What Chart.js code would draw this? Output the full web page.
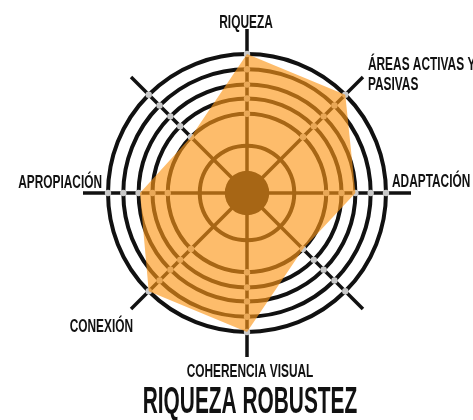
<!DOCTYPE html>
<html>
<head>
<meta charset="utf-8">
<script src="https://cdn.jsdelivr.net/npm/chart.js@4"></script>
<style>
  html, body { margin: 0; padding: 0; background: #fff; }
</style>
</head>
<body>
<canvas id="radar-chart" width="473" height="420"></canvas>
<script>
// axes, clockwise from the top (two diagonals carry no label)
const axisLabels = ["RIQUEZA", ["ÁREAS ACTIVAS Y", "PASIVAS"], "ADAPTACIÓN", "", "COHERENCIA VISUAL", "CONEXIÓN", "APROPIACIÓN", ""];
const values = [10, 10, 7.8, 5.7, 10, 10, 7.7, 5.7];
// ring positions (outer ring = 10)
const ringValues = [3.4, 5.7, 6.8, 7.8, 8.9, 10];
const dashedRings = [5.7, 6.8, 7.8, 8.9, 10];
const centerValue = 1.6;
const axisMax = 11.8;
const chartTitle = "RIQUEZA ROBUSTEZ";

const INK = "#111111";
const FONT = "Liberation Sans, Arial, sans-serif";

// label placement relative to the end of each axis line
const labelLayout = [
  { dx: -1, dy: -1, align: "center" },
  { dx: 5, dy: -7, align: "left" },
  { dx: -19, dy: -6, align: "left" },
  null,
  { dx: 3, dy: 20, align: "center" },
  { dx: 2, dy: 23, align: "right" },
  { dx: 19, dy: -5, align: "right" },
  null,
];

function condensedText(ctx, text, x, y, size, squeeze, align, weight) {
  ctx.save();
  ctx.translate(x, y);
  ctx.scale(squeeze, 1);
  ctx.font = weight + " " + size + "px " + FONT;
  ctx.textAlign = align;
  ctx.textBaseline = "alphabetic";
  ctx.fillStyle = INK;
  ctx.fillText(text, 0, 0);
  ctx.restore();
}

const ringMarks = {
  id: "ringMarks",
  beforeDatasetsDraw(chart) {
    const scale = chart.scales.r;
    const ctx = chart.ctx;
    ctx.save();
    // solid hub
    ctx.fillStyle = INK;
    ctx.beginPath();
    ctx.arc(scale.xCenter, scale.yCenter, scale.getDistanceFromCenterForValue(centerValue), 0, Math.PI * 2);
    ctx.fill();
    // light dots where the outer rings cross the spokes
    ctx.fillStyle = "#c8c8c8";
    dashedRings.forEach(v => {
      const d = scale.getDistanceFromCenterForValue(v);
      axisLabels.forEach((_, i) => {
        const p = scale.getPointPosition(i, d);
        ctx.beginPath();
        ctx.arc(p.x, p.y, 3.2, 0, Math.PI * 2);
        ctx.fill();
      });
    });
    ctx.restore();
  },
  afterDraw(chart) {
    const scale = chart.scales.r;
    const ctx = chart.ctx;
    axisLabels.forEach((label, i) => {
      const lay = labelLayout[i];
      if (!lay || !label) return;
      const end = scale.getPointPosition(i, scale.drawingArea);
      const lines = Array.isArray(label) ? label : [label];
      lines.forEach((line, k) => {
        condensedText(ctx, line, end.x + lay.dx, end.y + lay.dy + k * 20, 18, 0.66, lay.align, "bold");
      });
    });
    condensedText(ctx, chartTitle, scale.xCenter + 3, 413, 36, 0.58, "center", "bold");
  }
};

new Chart(document.getElementById("radar-chart").getContext("2d"), {
  type: "radar",
  data: {
    labels: axisLabels,
    datasets: [
      {
        label: chartTitle,
        data: values,
        fill: true,
        backgroundColor: "rgba(252, 150, 24, 0.64)",
        borderWidth: 0,
        pointRadius: 0,
        pointHoverRadius: 0,
      },
    ],
  },
  options: {
    responsive: false,
    animation: false,
    devicePixelRatio: 1,
    layout: {
      padding: { top: 29, bottom: 63, left: 27, right: 6 },
    },
    plugins: {
      legend: { display: false },
      title: { display: false },
      tooltip: { enabled: false },
    },
    scales: {
      r: {
        min: 0,
        max: axisMax,
        afterBuildTicks: scale => {
          scale.ticks = [0, ...ringValues].map(v => ({ value: v }));
        },
        ticks: { display: false },
        pointLabels: { display: false },
        grid: { circular: true, color: INK, lineWidth: 4 },
        angleLines: { color: INK, lineWidth: 3.5 },
      },
    },
  },
  plugins: [ringMarks],
});
</script>
</body>
</html>
